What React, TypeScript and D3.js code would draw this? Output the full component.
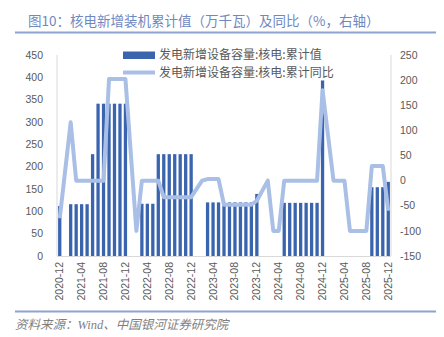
import React from "react";
import * as d3 from "d3";

const months: string[] = [
  "2020-12",
  "2021-01", "2021-02", "2021-03", "2021-04", "2021-05", "2021-06", "2021-07", "2021-08", "2021-09", "2021-10", "2021-11", "2021-12",
  "2022-01", "2022-02", "2022-03", "2022-04", "2022-05", "2022-06", "2022-07", "2022-08", "2022-09", "2022-10", "2022-11", "2022-12",
  "2023-01", "2023-02", "2023-03", "2023-04", "2023-05", "2023-06", "2023-07", "2023-08", "2023-09", "2023-10", "2023-11", "2023-12",
  "2024-01", "2024-02", "2024-03", "2024-04", "2024-05", "2024-06", "2024-07", "2024-08", "2024-09", "2024-10", "2024-11", "2024-12",
  "2025-01", "2025-02", "2025-03", "2025-04", "2025-05", "2025-06", "2025-07", "2025-08", "2025-09", "2025-10", "2025-11", "2025-12",
];

// 累计值（万千瓦）
const cumValue: (number | null)[] = [
  112,
  null, 116, 116, 116, 116, 228, 341, 341, 341, 341, 341, 341,
  null, 0, 117, 117, 117, 228, 228, 228, 228, 228, 228, 228,
  null, 0, 120, 120, 120, 120, 120, 120, 120, 120, 120, 139,
  null, 0, 0, 0, 119, 119, 119, 119, 119, 119, 119, 393,
  null, 0, 0, 0, 0, 0, 0, 0, 154, 154, 154, 166,
];

// 累计同比（%）
const cumYoY: (number | null)[] = [
  -75,
  null, 116, 0, 0, 0, 0, 0, 0, 202, 202, 202, 202,
  null, -100, 0, 0, 0, 0, -33, -33, -33, -33, -33, -33,
  null, 0, 3, 3, 3, -48, -48, -48, -48, -48, -48, -40,
  null, 0, -100, -100, 0, 0, 0, 0, 0, 0, 0, 180,
  null, 0, 0, 0, -100, -100, -100, -100, 29, 29, 29, -60,
];

const leftTicks = [0, 50, 100, 150, 200, 250, 300, 350, 400, 450];
const rightTicks = [-150, -100, -50, 0, 50, 100, 150, 200, 250];
const xLabels = months.filter((_, i) => i % 4 === 0);

const title = "图10：核电新增装机累计值（万千瓦）及同比（%，右轴）";
const legendBar = "发电新增设备容量:核电:累计值";
const legendLine = "发电新增设备容量:核电:累计同比";
const source = "资料来源：Wind、中国银河证券研究院";

const W = 444;
const H = 337;
const plotLeft = 57;
const plotRight = 391;
const plotTop = 55;
const plotBottom = 256;

const BAR = "#3b64ae";
const LINE = "#a9bfe6";
const TXT = "#595959";
const CJK = "'Noto Sans CJK SC', 'Noto Sans', sans-serif";
const NUM = "'Liberation Sans', Arial, sans-serif";

export default function App() {
  const x = d3.scaleBand<string>().domain(months).range([plotLeft, plotRight]).paddingInner(0.4).paddingOuter(0.2);
  const yL = d3.scaleLinear().domain([0, 450]).range([plotBottom, plotTop]);
  const yR = d3.scaleLinear().domain([-150, 250]).range([plotBottom, plotTop]);
  const cx = (m: string) => (x(m) as number) + x.bandwidth() / 2;

  const linePts = months
    .map((m, i) => ({ m, v: cumYoY[i] }))
    .filter((d) => d.v !== null) as { m: string; v: number }[];
  const linePath = d3
    .line<{ m: string; v: number }>()
    .x((d) => cx(d.m))
    .y((d) => yR(d.v))(linePts);

  return (
    <svg width={W} height={H} style={{ position: "absolute", left: 0, top: 0, background: "#fff" }}>
      <rect x={0} y={0} width={W} height={H} fill="#fff" />
      <text x={28} y={26} fontFamily={CJK} fontSize={13.5} fill="#6f88bf">{title}</text>
      <line x1={15} x2={436} y1={32.5} y2={32.5} stroke="#8ea4cf" strokeWidth={2} />

      {/* axes lines */}
      <line x1={plotLeft} x2={plotLeft} y1={plotTop} y2={plotBottom} stroke="#d9d9d9" strokeWidth={1} />
      <line x1={plotRight} x2={plotRight} y1={plotTop} y2={plotBottom} stroke="#d9d9d9" strokeWidth={1} />
      <line x1={plotLeft} x2={plotRight} y1={plotBottom + 0.5} y2={plotBottom + 0.5} stroke="#d9d9d9" strokeWidth={1} />

      {leftTicks.map((t) => (
        <text key={"l" + t} x={43} y={yL(t)} dy="0.35em" textAnchor="end" fontFamily={NUM} fontSize={10.5} fill={TXT}>{t}</text>
      ))}
      {rightTicks.map((t) => (
        <text key={"r" + t} x={400} y={yR(t)} dy="0.35em" textAnchor="start" fontFamily={NUM} fontSize={10.5} fill={TXT}>{t}</text>
      ))}
      {xLabels.map((m) => (
        <text key={"x" + m} transform={`translate(${cx(m) + 3.5},262) rotate(-90)`} textAnchor="end" fontFamily={NUM} fontSize={10.5} fill={TXT}>{m}</text>
      ))}

      {months.map((m, i) => {
        const v = cumValue[i];
        if (v === null || v === 0) return null;
        return <rect key={"b" + m} x={x(m)} y={yL(v)} width={x.bandwidth()} height={yL(0) - yL(v)} fill={BAR} />;
      })}

      <path d={linePath || ""} fill="none" stroke={LINE} strokeWidth={4} strokeLinejoin="round" />

      {/* legend */}
      <rect x={123} y={51.5} width={32} height={7.5} fill={BAR} />
      <text x={159} y={55} dy="0.35em" fontFamily={CJK} fontSize={12} fill={TXT}>{legendBar}</text>
      <line x1={123} x2={155} y1={72.5} y2={72.5} stroke={LINE} strokeWidth={4} />
      <text x={159} y={72.5} dy="0.35em" fontFamily={CJK} fontSize={12} fill={TXT}>{legendLine}</text>

      <line x1={15} x2={436} y1={311.5} y2={311.5} stroke="#8ea4cf" strokeWidth={2} />
      <text x={15} y={329} fontFamily={"'Liberation Serif', 'Noto Sans CJK SC', serif"} fontStyle="italic" fontSize={12.5} fill="#7f7f7f">{source}</text>
    </svg>
  );
}
